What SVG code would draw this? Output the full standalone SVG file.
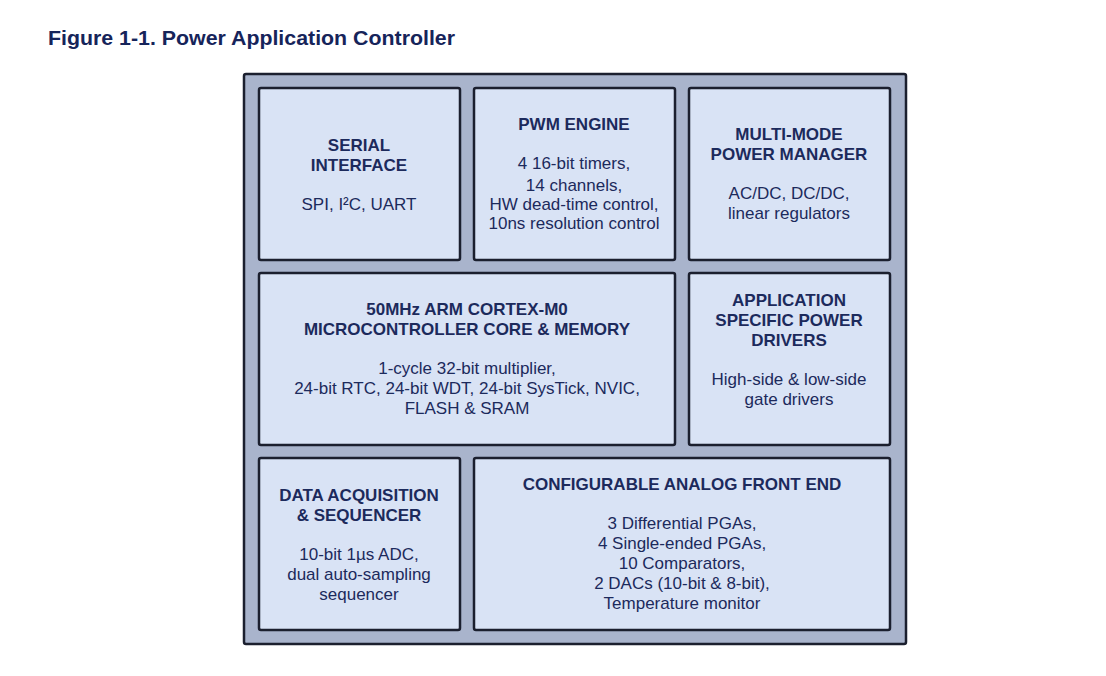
<svg xmlns="http://www.w3.org/2000/svg" width="1106" height="676" viewBox="0 0 1106 676">
<style>
.blk rect{fill:#d9e3f5;stroke:#1b1f2e;stroke-width:2.5}
text{font-family:"Liberation Sans",Arial,sans-serif;fill:#1c2a5c;text-anchor:middle;font-size:17px}
.h{font-weight:bold}
</style>
<rect width="1106" height="676" fill="#ffffff"/>
<text x="48" y="45" textLength="407" lengthAdjust="spacingAndGlyphs" style="text-anchor:start;font-size:21px;font-weight:bold;fill:#16245a">Figure 1-1. Power Application Controller</text>
<rect id="outer" x="244" y="74" width="662" height="570" fill="#a9b4cc" stroke="#1b1f2e" stroke-width="2.5" rx="2"/>
<g id="serial" class="blk">
<rect x="259" y="88" width="201" height="172" rx="2"/>
<text class="h" x="359" y="151">SERIAL</text>
<text class="h" x="359" y="171">INTERFACE</text>
<text x="359" y="210">SPI, I²C, UART</text>
</g>
<g id="pwm" class="blk">
<rect x="474" y="88" width="201" height="172" rx="2"/>
<text class="h" x="574" y="130">PWM ENGINE</text>
<text x="574" y="169">4 16-bit timers,</text>
<text x="574" y="191">14 channels,</text>
<text x="574" y="210">HW dead-time control,</text>
<text x="574" y="229">10ns resolution control</text>
</g>
<g id="power" class="blk">
<rect x="689" y="88" width="201" height="172" rx="2"/>
<text class="h" x="789" y="140">MULTI-MODE</text>
<text class="h" x="789" y="160">POWER MANAGER</text>
<text x="789" y="199">AC/DC, DC/DC,</text>
<text x="789" y="219">linear regulators</text>
</g>
<g id="core" class="blk">
<rect x="259" y="273" width="416" height="172" rx="2"/>
<text class="h" x="467" y="315">50MHz ARM CORTEX-M0</text>
<text class="h" x="467" y="335">MICROCONTROLLER CORE &amp; MEMORY</text>
<text x="467" y="374">1-cycle 32-bit multiplier,</text>
<text x="467" y="394">24-bit RTC, 24-bit WDT, 24-bit SysTick, NVIC,</text>
<text x="467" y="414">FLASH &amp; SRAM</text>
</g>
<g id="drivers" class="blk">
<rect x="689" y="273" width="201" height="172" rx="2"/>
<text class="h" x="789" y="306">APPLICATION</text>
<text class="h" x="789" y="326">SPECIFIC POWER</text>
<text class="h" x="789" y="346">DRIVERS</text>
<text x="789" y="385">High-side &amp; low-side</text>
<text x="789" y="405">gate drivers</text>
</g>
<g id="daq" class="blk">
<rect x="259" y="458" width="201" height="172" rx="2"/>
<text class="h" x="359" y="501">DATA ACQUISITION</text>
<text class="h" x="359" y="521">&amp; SEQUENCER</text>
<text x="359" y="560">10-bit 1µs ADC,</text>
<text x="359" y="580">dual auto-sampling</text>
<text x="359" y="600">sequencer</text>
</g>
<g id="afe" class="blk">
<rect x="474" y="458" width="416" height="172" rx="2"/>
<text class="h" x="682" y="490">CONFIGURABLE ANALOG FRONT END</text>
<text x="682" y="529">3 Differential PGAs,</text>
<text x="682" y="549">4 Single-ended PGAs,</text>
<text x="682" y="569">10 Comparators,</text>
<text x="682" y="589">2 DACs (10-bit &amp; 8-bit),</text>
<text x="682" y="609">Temperature monitor</text>
</g>
<g id="connectors"/>
</svg>
